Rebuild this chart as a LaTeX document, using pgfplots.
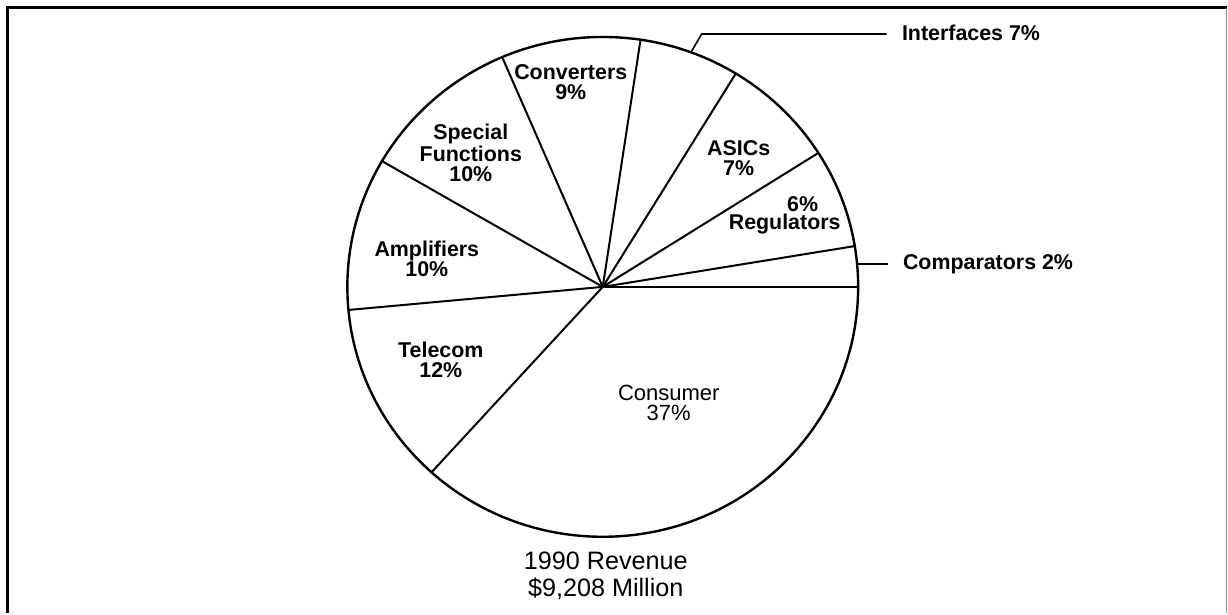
\documentclass[border=0pt]{standalone}
\usepackage{fontspec}
\setmainfont{Liberation Sans}
\usepackage{pgfplots}
\pgfplotsset{compat=1.18}
\tikzset{
  lab/.style={font=\bfseries\fontsize{10.7}{9.8}\selectfont, align=center, inner sep=0pt},
}
\pgfplotsset{spoke/.style={black, line width=1pt, no markers}}
\begin{document}
\begin{tikzpicture}
\begin{axis}[
  width=614pt, height=306.5pt, scale only axis,
  xmin=0, xmax=1228, ymin=0, ymax=613,
  axis lines=none, clip=false, disabledatascaling,
]
\path (axis cs:0,0) rectangle (axis cs:1228,613);
% frame
\draw[line width=1.5pt] (axis cs:8,0) -- (axis cs:8,605) -- (axis cs:1227,605);
\draw[line width=0.6pt, black!45] (axis cs:1227,605) -- (axis cs:1227,0);
% pie outline (centre 603,326; radii 255.5 x 250)
\draw[line width=1.2pt] (axis cs:603,326) ellipse [x radius=255.5, y radius=250];
% slice boundaries at 0, 9.4, 32.4, 58.6, 81.5, 113.2, 149.8, 185.3, 227.9 degrees
\addplot[spoke] coordinates {(603,326) (858.5,326)};
\addplot[spoke] coordinates {(603,326) (855.1,366.8)};
\addplot[spoke] coordinates {(603,326) (818.7,460.0)};
\addplot[spoke] coordinates {(603,326) (736.1,539.4)};
\addplot[spoke] coordinates {(603,326) (640.8,573.3)};
\addplot[spoke] coordinates {(603,326) (502.4,555.8)};
\addplot[spoke] coordinates {(603,326) (382.2,451.8)};
\addplot[spoke] coordinates {(603,326) (348.6,302.9)};
\addplot[spoke] coordinates {(603,326) (431.7,140.5)};
% leader lines
\addplot[black, line width=0.8pt, no markers] coordinates {(692,562) (702,579) (887,579)};
\addplot[black, line width=0.8pt, no markers] coordinates {(858,349) (888,349)};
% labels
\node[lab, anchor=west] at (axis cs:902,580) {Interfaces 7\%};
\node[lab, anchor=west] at (axis cs:903,349) {Comparators 2\%};
\node[lab] at (axis cs:571,531) {Converters\\9\%};
\node[lab] at (axis cs:471,460) {Special\\Functions\\10\%};
\node[lab] at (axis cs:739,455) {ASICs\\7\%};
\node[lab] at (axis cs:803,409) {6\%};
\node[lab] at (axis cs:785,388.5) {Regulators};
\node[lab] at (axis cs:427,354) {Amplifiers\\10\%};
\node[lab] at (axis cs:441,253) {Telecom\\12\%};
\node[lab, font=\mdseries\fontsize{11}{10}\selectfont] at (axis cs:669,209.5) {Consumer\\37\%};
\node[inner sep=0pt, align=center, font=\fontsize{12.6}{13.5}\selectfont] at (axis cs:606,36.5) {1990 Revenue\\\$9,208 Million};
\end{axis}
\end{tikzpicture}
\end{document}
